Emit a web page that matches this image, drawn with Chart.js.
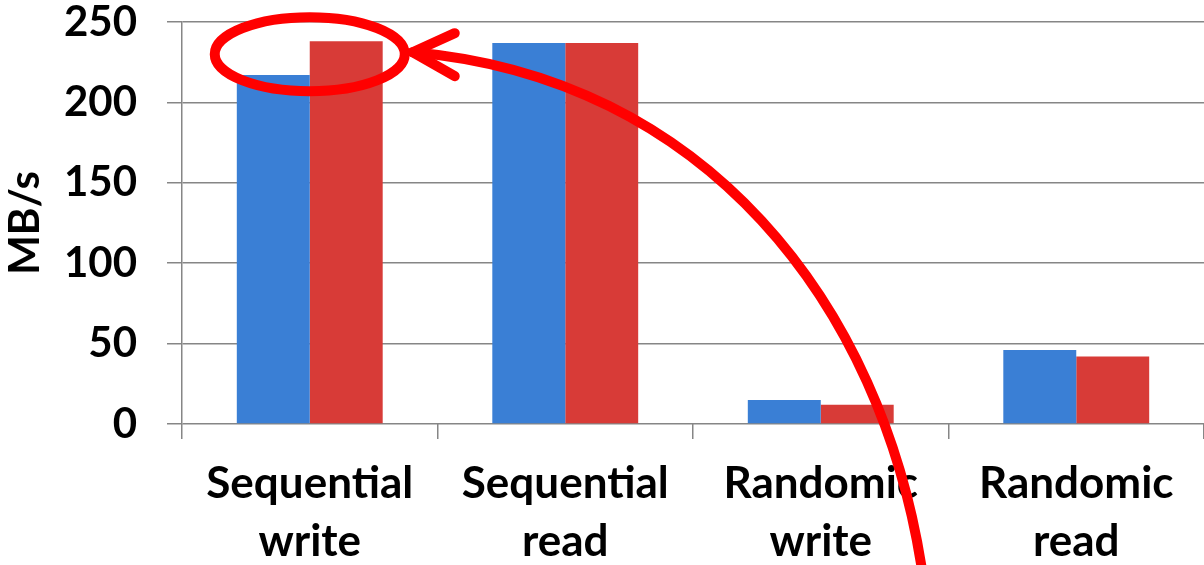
<!DOCTYPE html>
<html>
<head>
  <title>MB/s</title>
  <style>
    body { margin: 0; background: #fff; }
    #wrap { width: 1204px; height: 565px; }
  </style>
  <script src="https://cdn.jsdelivr.net/npm/chart.js"></script>
</head>
<body>
  <div id="wrap"><canvas id="speedChart"></canvas></div>
  <script>
    const categories = [['Sequential', 'write'], ['Sequential', 'read'], ['Randomic', 'write'], ['Randomic', 'read']];
    const blueValues = [217, 237, 15, 46];
    const redValues = [238, 237, 12, 42];
    const yTicks = [0, 50, 100, 150, 200, 250];

    // hand-drawn red ellipse + arrow over the first group
    const scribble = {
      id: 'scribble',
      afterDraw(chart) {
        const { ctx, scales: { x, y } } = chart;
        const cx = x.getPixelForValue(0);
        const cy = y.getPixelForValue(230);
        ctx.save();
        ctx.strokeStyle = '#ff0000';
        ctx.lineWidth = 10;
        ctx.lineCap = 'round';
        ctx.beginPath();
        ctx.ellipse(cx, cy, 95, 37, 0, 0, Math.PI * 2);
        ctx.stroke();
        const tipX = cx + 103, tipY = cy - 2;
        ctx.beginPath();
        ctx.moveTo(tipX, tipY);
        ctx.bezierCurveTo(tipX + 290, tipY + 25, tipX + 470, tipY + 250, tipX + 510, 575);
        ctx.stroke();
        ctx.beginPath();
        ctx.moveTo(tipX + 42, tipY - 19);
        ctx.lineTo(tipX, tipY);
        ctx.lineTo(tipX + 42, tipY + 24);
        ctx.stroke();
        ctx.restore();
      }
    };

    new Chart(document.getElementById('speedChart'), {
      type: 'bar',
      data: {
        labels: categories,
        datasets: [
          { label: 'A', data: blueValues, backgroundColor: '#3a7fd5' },
          { label: 'B', data: redValues, backgroundColor: '#d83b37' }
        ]
      },
      options: {
        responsive: true,
        maintainAspectRatio: false,
        animation: false,
        layout: { padding: { top: 22, right: 0, left: 0, bottom: 0 } },
        datasets: { bar: { categoryPercentage: 0.571, barPercentage: 1 } },
        plugins: { legend: { display: false }, tooltip: { enabled: false } },
        scales: {
          x: {
            afterFit(scale) {
              scale.height = 141;
              scale.paddingLeft = 0; scale.paddingRight = 0;
              scale.paddingTop = 0; scale.paddingBottom = 0;
            },
            grid: { drawOnChartArea: false, drawTicks: true, tickLength: 15, color: '#868686', lineWidth: 1.5 },
            border: { display: false },
            ticks: {
              color: '#000',
              padding: 16,
              maxRotation: 0,
              font: { family: 'Lato', weight: 'bold', size: 44, lineHeight: 1.32 }
            }
          },
          y: {
            min: 0,
            max: 250,
            afterFit(scale) {
              scale.width = 182;
              scale.paddingTop = 0; scale.paddingBottom = 0;
              scale.paddingLeft = 0; scale.paddingRight = 0;
            },
            afterBuildTicks(scale) { scale.ticks = yTicks.map(v => ({ value: v })); },
            grid: { color: '#868686', lineWidth: 1.5, tickLength: 15 },
            border: { color: '#868686', width: 1.5 },
            ticks: {
              color: '#000',
              padding: 30,
              font: { family: 'Lato', weight: 'bold', size: 42, lineHeight: 1.0 }
            },
            title: {
              display: true,
              text: 'MB/s',
              color: '#000',
              padding: 0,
              font: { family: 'Lato', weight: 'bold', size: 42 }
            }
          }
        }
      },
      plugins: [scribble]
    });
  </script>
</body>
</html>
